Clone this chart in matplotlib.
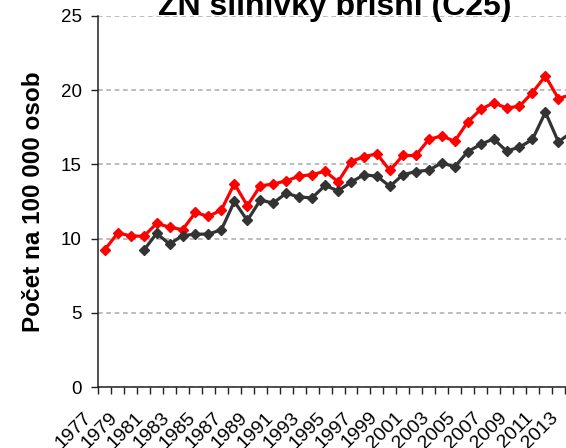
import matplotlib
matplotlib.use("Agg")
import matplotlib.pyplot as plt
from matplotlib.ticker import FixedLocator
from matplotlib.transforms import ScaledTranslation

plt.rcParams['font.family'] = ['Liberation Sans', 'DejaVu Sans']

years = list(range(1977, 2014))
red_values = [9.25, 10.37, 10.19, 10.15, 11.02, 10.77, 10.60, 11.76, 11.49, 11.94,
              13.70, 12.22, 13.55, 13.68, 13.89, 14.21, 14.31, 14.54, 13.83, 15.19,
              15.52, 15.71, 14.59, 15.60, 15.60, 16.68, 16.92, 16.56, 17.85, 18.70,
              19.15, 18.80, 18.92, 19.84, 20.95, 19.44, 19.70]
gray_values = [None, None, None, 9.20, 10.35, 9.63, 10.20, 10.30, 10.30, 10.60,
               12.50, 11.22, 12.59, 12.40, 13.06, 12.80, 12.75, 13.58, 13.22, 13.80,
               14.30, 14.21, 13.52, 14.30, 14.52, 14.61, 15.10, 14.84, 15.85, 16.35,
               16.72, 15.90, 16.16, 16.68, 18.52, 16.52, 17.15]
title = "ZN slinivky břišní (C25)"
ylabel = "Počet na 100 000 osob"
yticks = [0, 5, 10, 15, 20, 25]

W, H = 566, 448
fig = plt.figure(figsize=(W / 100, H / 100), dpi=100)
left, right, bottom, top = 98.3, 577.8, 387, 16
ax = fig.add_axes([left / W, (H - bottom) / H, (right - left) / W, (bottom - top) / H])

x = list(range(len(years)))
gx = [i for i, v in zip(x, gray_values) if v is not None]
gv = [v for v in gray_values if v is not None]

ax.plot(x, red_values, color='#ff0000', lw=2.3, marker='D', ms=5.3,
        mec='#ff0000', mew=1, zorder=3, clip_on=False)
ax.plot(gx, gv, color='#333333', lw=2.3, marker='D', ms=5.3,
        mec='#333333', mew=1, zorder=3, clip_on=False)

ax.set_yticks(yticks)
ax.set_yticklabels([str(t) for t in yticks])
ax.yaxis.grid(True, color='#b0b0b0', linestyle=(0, (2.8, 2.2)), linewidth=1.2)
ax.set_axisbelow(True)

ax.set_xticks(x[::2])
ax.set_xticklabels([str(y) for y in years[::2]], rotation=45, ha='right', va='center',
                   rotation_mode='anchor', fontsize=14)
ax.xaxis.set_minor_locator(FixedLocator([i - 0.5 for i in range(len(years) + 1)]))
ax.tick_params(axis='x', which='major', length=0, pad=20)
ax.tick_params(axis='x', which='minor', length=5, width=1, color='#222222')
ax.tick_params(axis='y', length=5, width=1, color='#222222', labelsize=13.5, pad=7)
ax.set_xlim(-0.5, len(years) - 0.5)
ax.set_ylim(0, 25)

for s in ['top', 'right']:
    ax.spines[s].set_visible(False)
for s in ['left', 'bottom']:
    ax.spines[s].set_color('#222222')
    ax.spines[s].set_linewidth(1.1)

# shift rotated year labels a little left of their category centre
shift = ScaledTranslation(-0.153, 0, fig.dpi_scale_trans)
for lab in ax.get_xticklabels():
    lab.set_transform(lab.get_transform() + shift)

fig.text(335 / W, 1 - 15 / H, title, ha='center', va='baseline', fontsize=23,
         fontweight='bold')
fig.text(34 / W, 1 - 201.5 / H, ylabel, rotation=90, ha='center', va='center',
         fontsize=17.5, fontweight='bold')

fig.savefig('out.png', dpi=100)
